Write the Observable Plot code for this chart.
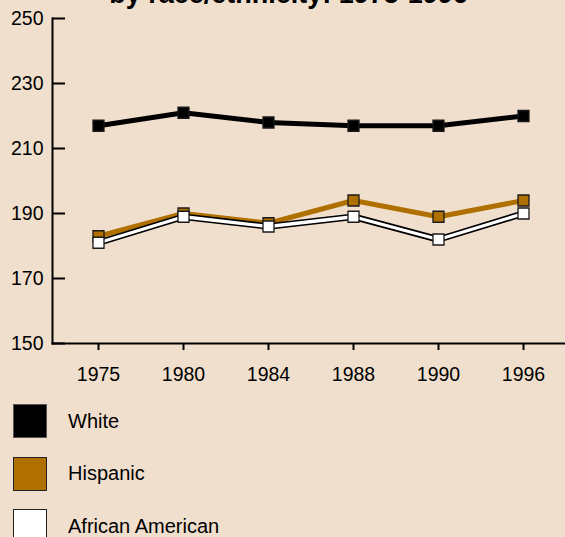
<!DOCTYPE html>
<html>
<head>
<meta charset="utf-8">
<script src="https://cdn.jsdelivr.net/npm/d3@7"></script>
<script src="https://cdn.jsdelivr.net/npm/@observablehq/plot@0.6"></script>
<style>
  html, body { margin: 0; padding: 0; background: #f0dfcd; overflow: hidden; }
  body { width: 565px; height: 537px; position: relative; font-family: "Liberation Sans", Arial, sans-serif; color: #000; }
  .title { position: absolute; left: 6px; width: 565px; top: -19px; text-align: center;
           font: bold 27px/26px "Liberation Sans", Arial, sans-serif; white-space: nowrap; }
  #chart svg { display: block; }
  .legend { padding-top: 9px; }
  .item { display: flex; align-items: center; height: 34px; margin-bottom: 18.6px; }
  .swatch { box-sizing: border-box; width: 34px; height: 34px; margin-left: 13px; margin-right: 21px; border: 1.5px solid #222; }
  .label { font-size: 20px; }
</style>
</head>
<body>
<div class="title">by race/ethnicity: 1975-1996</div>
<div id="chart"></div>
<div class="legend" id="legend"></div>
<script>
// Average scores by assessment year, one array per group
const years = ["1975", "1980", "1984", "1988", "1990", "1996"];
const white = [217, 221, 218, 217, 217, 220];
const hispanic = [183, 190, 187, 194, 189, 194];
const africanAmerican = [181, 189, 186, 189, 182, 190];
const yTicks = [150, 170, 190, 210, 230, 250];
const seriesNames = ["White", "Hispanic", "African American"];
const seriesColors = ["#000000", "#b07000", "#ffffff"];

const rows = (name, vals) => years.map((year, i) => ({series: name, year, score: vals[i]}));
const whiteRows = rows(seriesNames[0], white);
const hispanicRows = rows(seriesNames[1], hispanic);
const africanRows = rows(seriesNames[2], africanAmerican);

const dotStyle = {x: "year", y: "score", symbol: "square", r: 6.2, stroke: "#1a1a1a", strokeWidth: 1.3};

const chart = Plot.plot({
  width: 565,
  height: 395,
  marginTop: 18,
  marginBottom: 52,
  marginLeft: 52,
  marginRight: 0,
  style: {background: "transparent", fontFamily: "'Liberation Sans', Arial, sans-serif", fontSize: "19.5px", color: "#000", overflow: "visible"},
  x: {type: "point", domain: years, range: [96, 524], padding: 0, label: null},
  y: {domain: [150, 250], label: null},
  marks: [
    Plot.frame({anchor: "left", stroke: "#000", strokeWidth: 2}),
    Plot.frame({anchor: "bottom", stroke: "#000", strokeWidth: 2}),
    // inward-pointing y ticks
    Plot.tickY(yTicks, {y: d => d, stroke: "#000", strokeWidth: 2, insetRight: 500}),
    Plot.axisY({ticks: yTicks, tickSize: 0, tickPadding: 9, label: null}),
    Plot.axisX({tickSize: 7, tickPadding: 17, strokeWidth: 2, label: null}),

    // White
    Plot.lineY(whiteRows, {x: "year", y: "score", stroke: seriesColors[0], strokeWidth: 5}),
    Plot.dot(whiteRows, {...dotStyle, fill: seriesColors[0]}),

    // Hispanic
    Plot.lineY(hispanicRows, {x: "year", y: "score", stroke: seriesColors[1], strokeWidth: 5}),
    Plot.dot(hispanicRows, {...dotStyle, fill: seriesColors[1]}),

    // African American: white line with a dark outline
    Plot.lineY(africanRows, {x: "year", y: "score", stroke: "#000", strokeWidth: 6.5}),
    Plot.lineY(africanRows, {x: "year", y: "score", stroke: seriesColors[2], strokeWidth: 3.3}),
    Plot.dot(africanRows, {...dotStyle, fill: seriesColors[2]})
  ]
});
document.getElementById("chart").append(chart);

// Legend below the chart
const legend = d3.select("#legend");
seriesNames.forEach((name, i) => {
  const item = legend.append("div").attr("class", "item");
  item.append("div").attr("class", "swatch")
    .style("background", seriesColors[i])
    .style("border-color", i === 0 ? "#555" : "#222");
  item.append("div").attr("class", "label").text(name);
});
</script>
</body>
</html>
